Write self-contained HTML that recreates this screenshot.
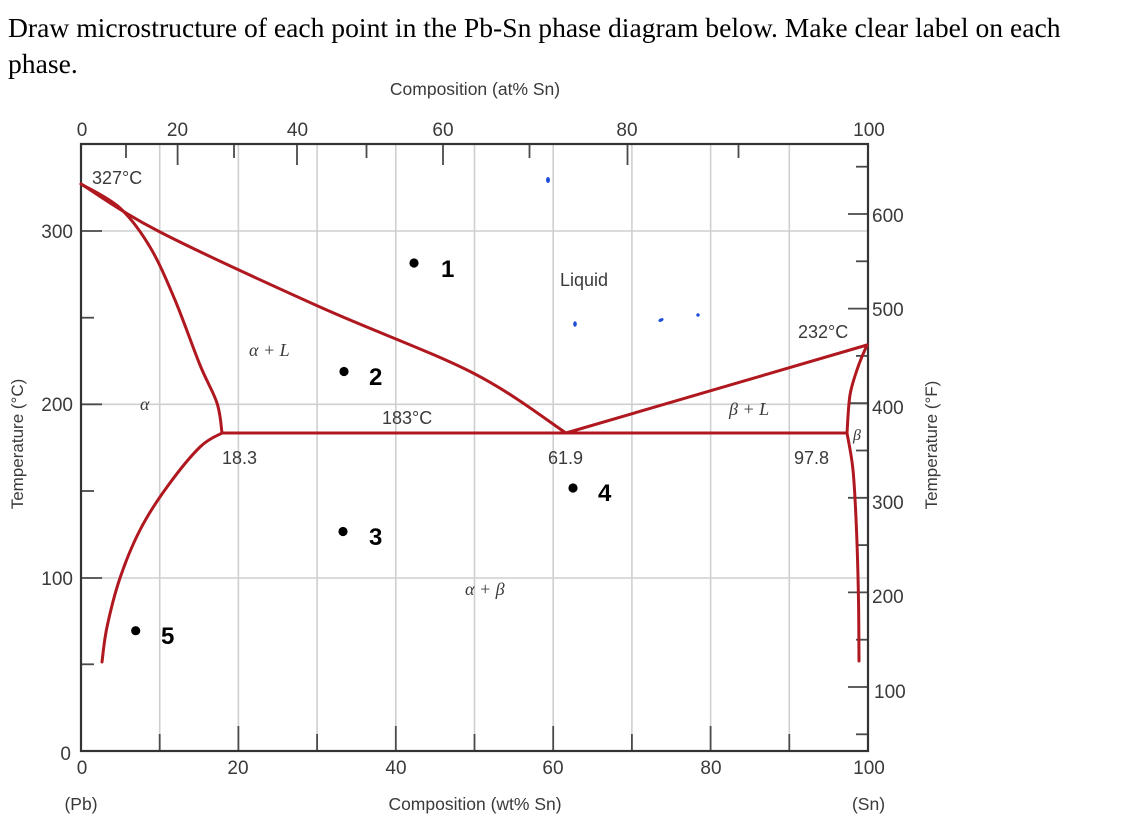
<!DOCTYPE html>
<html>
<head>
<meta charset="utf-8">
<style>
  html,body{margin:0;padding:0;background:#fff;}
  svg{display:block;}
</style>
</head>
<body>
<svg width="1140" height="828" viewBox="0 0 1140 828" xmlns="http://www.w3.org/2000/svg">
  <rect width="1140" height="828" fill="#fff"/>
  <!-- Title -->
  <text x="8" y="37" font-family="Liberation Serif, serif" font-size="27.6" fill="#000">Draw microstructure of each point in the Pb-Sn phase diagram below. Make clear label on each</text>
  <text x="8" y="73" font-family="Liberation Serif, serif" font-size="27.6" fill="#000">phase.</text>

  <!-- gridlines -->
  <g stroke="#cfcfcf" stroke-width="1.6">
    <line x1="159.7" y1="145" x2="159.7" y2="750"/>
    <line x1="238.4" y1="145" x2="238.4" y2="750"/>
    <line x1="317.1" y1="145" x2="317.1" y2="750"/>
    <line x1="395.8" y1="145" x2="395.8" y2="750"/>
    <line x1="474.5" y1="145" x2="474.5" y2="750"/>
    <line x1="553.2" y1="145" x2="553.2" y2="750"/>
    <line x1="631.9" y1="145" x2="631.9" y2="750"/>
    <line x1="710.6" y1="145" x2="710.6" y2="750"/>
    <line x1="789.3" y1="145" x2="789.3" y2="750"/>
    <line x1="82" y1="578" x2="867" y2="578"/>
    <line x1="82" y1="404.3" x2="867" y2="404.3"/>
    <line x1="82" y1="231" x2="867" y2="231"/>
  </g>

  <!-- ticks -->
  <g stroke="#4a4a4a" stroke-width="1.8">
    <!-- left axis -->
    <line x1="81" y1="578" x2="102" y2="578"/>
    <line x1="81" y1="404.3" x2="102" y2="404.3"/>
    <line x1="81" y1="231" x2="102" y2="231"/>
    <line x1="81" y1="664.3" x2="94" y2="664.3"/>
    <line x1="81" y1="491" x2="94" y2="491"/>
    <line x1="81" y1="317.7" x2="94" y2="317.7"/>
    <!-- bottom axis -->
    <line x1="159.7" y1="751" x2="159.7" y2="734"/>
    <line x1="238.4" y1="751" x2="238.4" y2="726"/>
    <line x1="317.1" y1="751" x2="317.1" y2="734"/>
    <line x1="395.8" y1="751" x2="395.8" y2="726"/>
    <line x1="474.5" y1="751" x2="474.5" y2="734"/>
    <line x1="553.2" y1="751" x2="553.2" y2="726"/>
    <line x1="631.9" y1="751" x2="631.9" y2="734"/>
    <line x1="710.6" y1="751" x2="710.6" y2="726"/>
    <line x1="789.3" y1="751" x2="789.3" y2="734"/>
    <!-- top axis (at%) -->
    <line x1="126" y1="144" x2="126" y2="158"/>
    <line x1="177.6" y1="144" x2="177.6" y2="165"/>
    <line x1="234" y1="144" x2="234" y2="158"/>
    <line x1="297" y1="144" x2="297" y2="165"/>
    <line x1="366.5" y1="144" x2="366.5" y2="158"/>
    <line x1="443" y1="144" x2="443" y2="165"/>
    <line x1="529.5" y1="144" x2="529.5" y2="158"/>
    <line x1="627.5" y1="144" x2="627.5" y2="165"/>
    <line x1="738.5" y1="144" x2="738.5" y2="158"/>
    <!-- right axis (F) -->
    <line x1="868" y1="166.7" x2="856" y2="166.7"/>
    <line x1="868" y1="214" x2="848" y2="214"/>
    <line x1="868" y1="261.3" x2="856" y2="261.3"/>
    <line x1="868" y1="308.6" x2="848" y2="308.6"/>
    <line x1="868" y1="355.9" x2="856" y2="355.9"/>
    <line x1="868" y1="403.2" x2="848" y2="403.2"/>
    <line x1="868" y1="450.5" x2="856" y2="450.5"/>
    <line x1="868" y1="497.8" x2="848" y2="497.8"/>
    <line x1="868" y1="545.1" x2="856" y2="545.1"/>
    <line x1="868" y1="592.4" x2="848" y2="592.4"/>
    <line x1="868" y1="639.7" x2="856" y2="639.7"/>
    <line x1="868" y1="687" x2="848" y2="687"/>
    <line x1="868" y1="734.3" x2="856" y2="734.3"/>
  </g>

  <!-- frame -->
  <rect x="81" y="144" width="787" height="607" fill="none" stroke="#333" stroke-width="2.2"/>

  <!-- phase boundaries -->
  <g fill="none" stroke="#b01820" stroke-width="3" stroke-linejoin="round" stroke-linecap="round">
    <!-- left liquidus -->
    <path d="M81,184 C94.2,192 120.2,211.5 160,232 C199.8,252.5 267.8,283.5 320,307 C372.2,330.5 432,352 473,373 C514,394 550.5,423 566,433"/>
    <!-- left solidus -->
    <path d="M81,184 C87.5,188 108.5,197.5 120,208 C131.5,218.5 140.8,231.7 150,247 C159.2,262.3 166.7,280.3 175,300 C183.3,319.7 193,347.8 200,365 C207,382.2 213.3,391.7 217,403 C220.7,414.3 221.2,428 222,433"/>
    <!-- left solvus -->
    <path d="M222,433 C218.3,435.3 209.2,438 200,447 C190.8,456 177,473.2 167,487 C157,500.8 147.8,514.8 140,530 C132.2,545.2 125.5,561.8 120,578 C114.5,594.2 110,613 107,627 C104,641 102.8,656.2 102,662"/>
    <!-- eutectic line -->
    <line x1="222" y1="433" x2="847" y2="433"/>
    <!-- right liquidus -->
    <line x1="566" y1="433" x2="867" y2="345"/>
    <!-- right solidus -->
    <path d="M867,345 C865.5,348.7 860.8,358.7 858,367 C855.2,375.3 851.8,384 850,395 C848.2,406 847.5,426.7 847,433"/>
    <!-- right solvus -->
    <path d="M847,433 C848,439.2 851.4,453.8 853,470 C854.6,486.2 855.6,508.3 856.5,530 C857.4,551.7 858.1,578.2 858.5,600 C858.9,621.8 858.9,650.8 859,661"/>
  </g>

  <!-- tick labels -->
  <g font-family="Liberation Sans, sans-serif" font-size="19" fill="#3a3a3a">
    <!-- left -->
    <text x="73" y="238" text-anchor="end">300</text>
    <text x="73" y="411" text-anchor="end">200</text>
    <text x="73" y="585" text-anchor="end">100</text>
    <text x="71" y="760" text-anchor="end">0</text>
    <!-- bottom -->
    <text x="82" y="774" text-anchor="middle">0</text>
    <text x="238" y="774" text-anchor="middle">20</text>
    <text x="396" y="774" text-anchor="middle">40</text>
    <text x="553" y="774" text-anchor="middle">60</text>
    <text x="711" y="774" text-anchor="middle">80</text>
    <text x="869" y="774" text-anchor="middle">100</text>
    <!-- top -->
    <text x="82" y="136" text-anchor="middle">0</text>
    <text x="177.5" y="136" text-anchor="middle">20</text>
    <text x="297.5" y="136" text-anchor="middle">40</text>
    <text x="443" y="136" text-anchor="middle">60</text>
    <text x="627" y="136" text-anchor="middle">80</text>
    <text x="869" y="136" text-anchor="middle">100</text>
    <!-- right -->
    <text x="872" y="222">600</text>
    <text x="872" y="316">500</text>
    <text x="872" y="414">400</text>
    <text x="872" y="509">300</text>
    <text x="872" y="603">200</text>
    <text x="874" y="698">100</text>
  </g>

  <!-- axis titles -->
  <g font-family="Liberation Sans, sans-serif" font-size="17.5" fill="#3a3a3a">
    <text x="475" y="95" text-anchor="middle">Composition (at% Sn)</text>
    <text x="475" y="810" text-anchor="middle">Composition (wt% Sn)</text>
    <text x="81" y="810" text-anchor="middle">(Pb)</text>
    <text x="868.5" y="810" text-anchor="middle">(Sn)</text>
  </g>
  <text transform="translate(23,444) rotate(-90)" text-anchor="middle" font-family="Liberation Sans, sans-serif" font-size="17" fill="#3a3a3a">Temperature (°C)</text>
  <text transform="translate(937,445) rotate(-90)" text-anchor="middle" font-family="Liberation Sans, sans-serif" font-size="17" fill="#3a3a3a">Temperature (°F)</text>

  <!-- annotations -->
  <g font-family="Liberation Sans, sans-serif" font-size="18" fill="#3a3a3a">
    <text x="92" y="184">327°C</text>
    <text x="560" y="286">Liquid</text>
    <text x="798" y="338">232°C</text>
    <text x="382" y="424">183°C</text>
    <text x="222" y="464">18.3</text>
    <text x="548" y="464">61.9</text>
    <text x="794" y="464">97.8</text>
  </g>
  <g font-family="Liberation Serif, serif" font-style="italic" font-size="18" fill="#3a3a3a">
    <text x="249" y="356">α + L</text>
    <text x="140" y="410">α</text>
    <text x="729" y="415">β + L</text>
    <text x="853" y="440" font-size="16">β</text>
    <text x="465" y="595">α + β</text>
  </g>

  <!-- points -->
  <g fill="#000">
    <circle cx="414" cy="263" r="4.6"/>
    <circle cx="344" cy="371.5" r="4.6"/>
    <circle cx="343" cy="531.5" r="4.6"/>
    <circle cx="573" cy="488" r="4.6"/>
    <circle cx="135.7" cy="630.7" r="4.6"/>
  </g>
  <g font-family="Liberation Sans, sans-serif" font-weight="bold" font-size="24" fill="#000">
    <text x="441" y="277">1</text>
    <text x="369" y="385">2</text>
    <text x="369" y="545">3</text>
    <text x="598" y="501">4</text>
    <text x="161" y="644">5</text>
  </g>

  <!-- blue marks -->
  <g fill="#1f4fd8">
    <ellipse cx="548" cy="180" rx="2" ry="3"/>
    <ellipse cx="575" cy="324" rx="1.8" ry="2.8"/>
    <ellipse cx="661" cy="320" rx="2.8" ry="1.6" transform="rotate(-25 661 320)"/>
    <circle cx="698" cy="315" r="1.7"/>
  </g>
</svg>
</body>
</html>
